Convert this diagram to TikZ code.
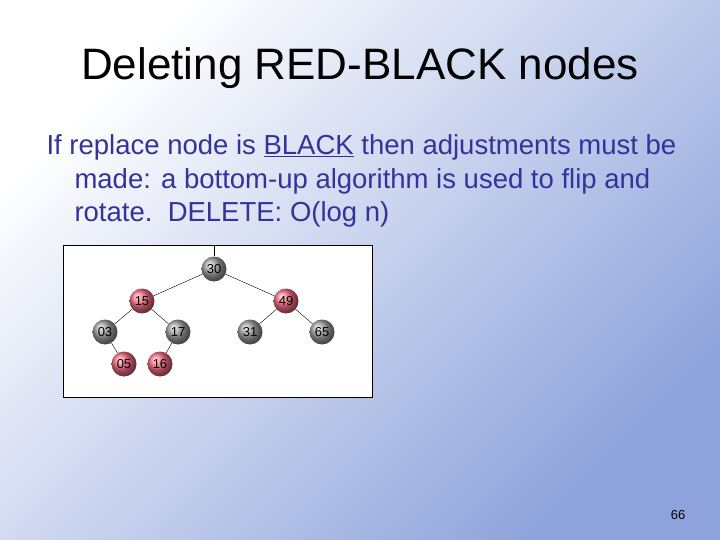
\documentclass[tikz,border=0pt]{standalone}
\usepackage{fontspec}
\setmainfont{Liberation Sans}
\definecolor{slideblue}{HTML}{8EA3DB}
\definecolor{bodytext}{HTML}{333399}
\definecolor{rednode}{HTML}{F26A82}
\begin{document}
\begin{tikzpicture}[x=1pt,y=-1pt,
    rbnode/.style={circle,minimum size=25pt,inner sep=0pt,font=\fontsize{13}{13}\selectfont},
    rednd/.style={rbnode,ball color=rednode},
    blacknd/.style={rbnode,ball color=gray!75},
    line/.style={anchor=base west,text=bodytext,font=\fontsize{27.5}{27.5}\selectfont}]
  \useasboundingbox (0,0) rectangle (720,540);
  \shade[top color=white,bottom color=slideblue,shading angle=45] (0,0) rectangle (720,540);
  % title and text
  \node[font=\fontsize{44}{44}\selectfont] (title) at (360,68) {Deleting RED-BLACK nodes};
  \node[line] (l1) at (43,155) {If replace node is \underline{BLACK} then adjustments must be};
  \node[line] (l2) at (71,189) {made: a bottom-up algorithm is used to flip and};
  \node[line] (l3) at (71,222) {rotate.\ \ DELETE: O(log n)};
  \node[font=\fontsize{13}{13}\selectfont] (page) at (678,515) {66};
  % tree
  \draw[fill=white] (63,245) rectangle (372,397);
  \node[blacknd] (n30) at (214,269) {30};
  \node[rednd] (n15) at (142,301) {15};
  \node[rednd] (n49) at (286,301) {49};
  \node[blacknd] (n03) at (105,332) {03};
  \node[blacknd] (n17) at (178,332) {17};
  \node[blacknd] (n31) at (250,332) {31};
  \node[blacknd] (n65) at (322,332) {65};
  \node[rednd] (n05) at (124,364) {05};
  \node[rednd] (n16) at (160,364) {16};
  \coordinate (root) at (214,245);
  \draw (root) -- (n30);
  \foreach \a/\b in {30/15,30/49,15/03,15/17,49/31,49/65,03/05,17/16}
    \draw (n\a) -- (n\b);
\end{tikzpicture}
\end{document}
